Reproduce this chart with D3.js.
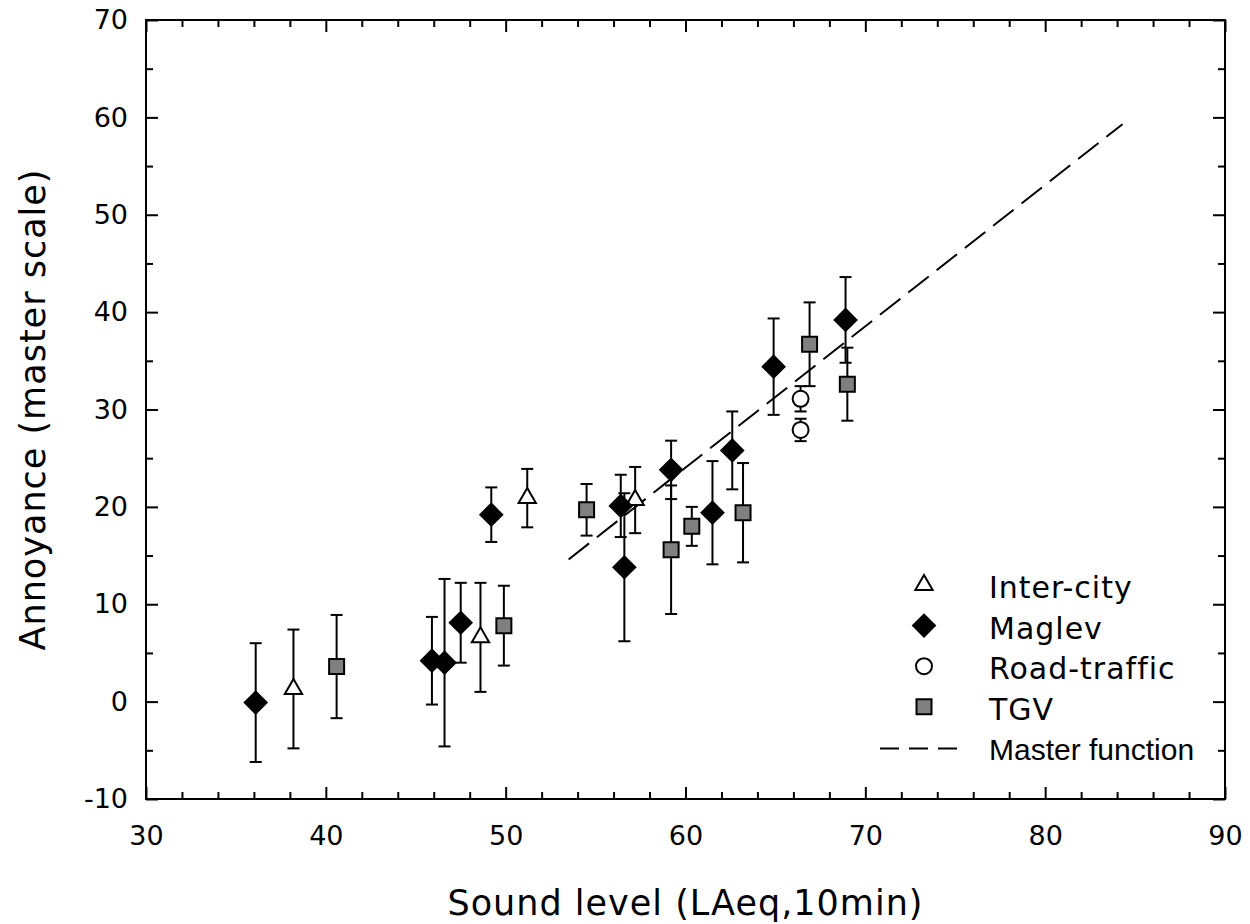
<!DOCTYPE html>
<html>
<head>
<meta charset="utf-8">
<script src="https://cdnjs.cloudflare.com/ajax/libs/d3/7.8.5/d3.min.js"></script>
<style>
  body { margin: 0; background: #fff; }
  text { font-family: "DejaVu Sans", Verdana, sans-serif; fill: #000; }
</style>
</head>
<body>
<script>
// values: [sound level, annoyance, error half-width]
const interCity = [[38.2, 1.3, 6.1], [48.6, 6.6, 5.6], [51.2, 20.9, 3.0], [57.2, 20.7, 3.4]];
const maglev = [[36.1, -0.1, 6.1], [45.9, 4.2, 4.5], [46.6, 4.0, 8.6], [47.5, 8.1, 4.1],
  [49.2, 19.2, 2.8], [56.4, 20.1, 3.2], [56.6, 13.8, 7.6], [59.2, 23.8, 3.0],
  [61.5, 19.4, 5.3], [62.6, 25.8, 4.0], [64.9, 34.4, 4.95], [68.9, 39.2, 4.4]];
const roadTraffic = [[66.4, 31.1, 1.3], [66.4, 27.9, 1.15]];
const tgv = [[40.6, 3.6, 5.3], [49.9, 7.8, 4.1], [54.5, 19.7, 2.65], [59.2, 15.6, 6.6],
  [60.35, 18.0, 2.0], [63.2, 19.4, 5.1], [66.9, 36.7, 4.3], [69.0, 32.6, 3.75]];
const masterX = [53.5, 84.3];
const masterY = [14.6, 59.3];
const legendNames = ['Inter-city', 'Maglev', 'Road-traffic', 'TGV', 'Master function'];

const width = 1250, height = 924;
const margin = {top: 20, left: 146, right: 25, bottom: 125};
const plotW = width - margin.left - margin.right;
const plotH = height - margin.top - margin.bottom;

const svg = d3.select('body').append('svg')
  .attr('width', width).attr('height', height);

const x = d3.scaleLinear().domain([30, 90]).range([0, plotW]);
const y = d3.scaleLinear().domain([-10, 70]).range([plotH, 0]);

const g = svg.append('g').attr('transform', `translate(${margin.left},${margin.top})`);

// marker shapes
const shapes = {
  tri: {type: d3.symbolTriangle, size: 130, fill: '#fff', rot: 0},
  dia: {type: d3.symbolSquare, size: 240, fill: '#000', rot: 45},
  circ: {type: d3.symbolCircle, size: 200, fill: '#fff', rot: 0},
  sq: {type: d3.symbolSquare, size: 225, fill: '#808080', rot: 0}
};
const series = [
  {data: interCity, shape: shapes.tri},
  {data: maglev, shape: shapes.dia},
  {data: roadTraffic, shape: shapes.circ},
  {data: tgv, shape: shapes.sq}
];

// axes: ticks point inwards on all four sides
function tickStyle(sel) {
  sel.select('.domain').remove();
  sel.selectAll('line').attr('stroke', '#000').attr('stroke-width', 2);
  sel.selectAll('text').attr('font-size', '27px').attr('font-family', '"DejaVu Sans", Verdana, sans-serif');
}
const plainNum = d => String(d);   // hyphen minus like the original
const xMajor = d3.range(30, 91, 10), xMinor = d3.range(32, 90, 2).filter(v => v % 10);
const yMajor = d3.range(-10, 71, 10), yMinor = d3.range(-5, 70, 10);

g.append('g').attr('transform', `translate(0,${plotH})`)
  .call(d3.axisBottom(x).tickValues(xMajor).tickSize(-12).tickPadding(27).tickFormat(plainNum))
  .call(tickStyle);
g.append('g').attr('transform', `translate(0,${plotH})`)
  .call(d3.axisBottom(x).tickValues(xMinor).tickSize(-7).tickFormat(''))
  .call(tickStyle);
g.append('g')
  .call(d3.axisTop(x).tickValues(xMajor).tickSize(-12).tickFormat(''))
  .call(tickStyle);
g.append('g')
  .call(d3.axisTop(x).tickValues(xMinor).tickSize(-7).tickFormat(''))
  .call(tickStyle);
g.append('g')
  .call(d3.axisLeft(y).tickValues(yMajor).tickSize(-12).tickPadding(18).tickFormat(plainNum))
  .call(tickStyle);
g.append('g')
  .call(d3.axisLeft(y).tickValues(yMinor).tickSize(-7).tickFormat(''))
  .call(tickStyle);
g.append('g').attr('transform', `translate(${plotW},0)`)
  .call(d3.axisRight(y).tickValues(yMajor).tickSize(-12).tickFormat(''))
  .call(tickStyle);
g.append('g').attr('transform', `translate(${plotW},0)`)
  .call(d3.axisRight(y).tickValues(yMinor).tickSize(-7).tickFormat(''))
  .call(tickStyle);

// frame
g.append('rect').attr('width', plotW).attr('height', plotH)
  .attr('fill', 'none').attr('stroke', '#000').attr('stroke-width', 2);

// axis titles
svg.append('text')
  .attr('x', margin.left + plotW / 2).attr('y', 915)
  .attr('text-anchor', 'middle').attr('font-size', '35px')
  .attr('letter-spacing', '1px')
  .text('Sound level (LAeq,10min)');
svg.append('text')
  .attr('transform', `translate(45,${margin.top + plotH / 2}) rotate(-90)`)
  .attr('text-anchor', 'middle').attr('font-size', '35px')
  .attr('letter-spacing', '1px')
  .text('Annoyance (master scale)');

// master function
g.append('line')
  .attr('x1', x(masterX[0])).attr('y1', y(masterY[0]))
  .attr('x2', x(masterX[1])).attr('y2', y(masterY[1]))
  .attr('stroke', '#000').attr('stroke-width', 2).attr('stroke-dasharray', '26,10');

// error bars
const capW = 6;
series.forEach(s => {
  const eb = g.append('g').attr('stroke', '#000').attr('stroke-width', 2);
  s.data.forEach(d => {
    const top = y(d[1] + d[2]), bot = y(d[1] - d[2]), cx = x(d[0]);
    eb.append('line').attr('x1', cx).attr('x2', cx).attr('y1', top).attr('y2', bot);
    eb.append('line').attr('x1', cx - capW).attr('x2', cx + capW).attr('y1', top).attr('y2', top);
    eb.append('line').attr('x1', cx - capW).attr('x2', cx + capW).attr('y1', bot).attr('y2', bot);
  });
});

// markers
series.forEach(s => {
  g.append('g').selectAll('path')
    .data(s.data)
    .enter()
    .append('path')
    .attr('d', d3.symbol().type(s.shape.type).size(s.shape.size))
    .attr('transform', d => `translate(${x(d[0])},${y(d[1])}) rotate(${s.shape.rot})`)
    .attr('fill', s.shape.fill)
    .attr('stroke', '#000')
    .attr('stroke-width', 2);
});

// legend
const legX = 924, legTextX = 989, legTop = 598, legStep = 40.6;
const legShapes = [shapes.tri, shapes.dia, shapes.circ, shapes.sq];
legendNames.forEach((name, i) => {
  const by = legTop + i * legStep;
  if (i < 4) {
    const s = legShapes[i];
    svg.append('path')
      .attr('d', d3.symbol().type(s.type).size(s.size))
      .attr('transform', `translate(${legX},${by - 13}) rotate(${s.rot})`)
      .attr('fill', s.fill).attr('stroke', '#000').attr('stroke-width', 2);
  } else {
    svg.append('line')
      .attr('x1', 880).attr('x2', 959).attr('y1', by - 12).attr('y2', by - 12)
      .attr('stroke', '#000').attr('stroke-width', 2).attr('stroke-dasharray', '19,10');
  }
  svg.append('text')
    .attr('x', legTextX).attr('y', by)
    .attr('font-size', i < 4 ? '30px' : '30px')
    .attr('letter-spacing', i < 4 ? '1px' : '0px')
    .style('font-family', i < 4 ? null : '"Liberation Sans", Arial, sans-serif')
    .text(name);
});
</script>
</body>
</html>
